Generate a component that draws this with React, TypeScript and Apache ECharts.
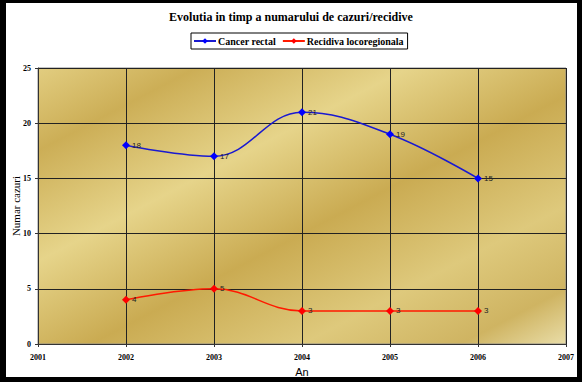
import React, { useEffect, useRef } from "react";
import * as echarts from "echarts";

const years = [2002, 2003, 2004, 2005, 2006];
const cancerRectal = [18, 17, 21, 19, 15];
const recidiva = [4, 5, 3, 3, 3];
const seriesNames = ["Cancer rectal", "Recidiva locoregionala"];
const titleText = "Evolutia in timp a numarului de cazuri/recidive";

export default function App() {
  const ref = useRef<HTMLDivElement>(null);
  useEffect(() => {
    document.body.style.margin = "0";
    const chart = echarts.init(ref.current!, null, { renderer: "svg" });
    const serif = "'Liberation Serif', 'Times New Roman', serif";
    const sans = "'Liberation Sans', Arial, sans-serif";
    const mk = (vals: number[]) => years.map((y, i) => [y, vals[i]]);
    const lbl = {
      show: true,
      position: "right",
      distance: 2,
      fontSize: 8,
      color: "#222",
      fontFamily: sans,
    };
    chart.setOption({
      animation: false,
      backgroundColor: "#000",
      graphic: [
        {
          type: "rect",
          z: -100,
          silent: true,
          shape: { x: 6, y: 3, width: 571, height: 374 },
          style: { fill: "#fff" },
        },
      ],
      title: {
        text: titleText,
        left: "center",
        top: 6,
        textStyle: { fontFamily: serif, fontSize: 12, fontWeight: "bold", color: "#000" },
      },
      legend: {
        top: 33,
        left: 191,
        data: seriesNames,
        borderColor: "#000",
        borderWidth: 1,
        padding: [3, 4, 3, 2],
        itemGap: 6,
        itemWidth: 22,
        itemHeight: 7,
        textStyle: { fontFamily: serif, fontSize: 10, fontWeight: "bold", color: "#000", padding: [0, 0, 0, -3] },
      },
      grid: {
        left: 38,
        right: 16,
        top: 68,
        bottom: 38,
        outerBoundsMode: "none",
        containLabel: false,
        show: true,
        borderColor: "#8a8a8a",
        borderWidth: 1,
        backgroundColor: new echarts.graphic.LinearGradient(0, 0, 1, 1, [
          { offset: 0, color: "#e2cd80" },
          { offset: 0.15, color: "#ccae56" },
          { offset: 0.35, color: "#e6d48a" },
          { offset: 0.55, color: "#caab52" },
          { offset: 0.75, color: "#dec97c" },
          { offset: 0.9, color: "#cfb462" },
          { offset: 1, color: "#e9dda8" },
        ]),
      },
      xAxis: {
        type: "value",
        min: 2001,
        max: 2007,
        interval: 1,
        name: "An",
        nameLocation: "middle",
        nameGap: 22,
        nameMoveOverlap: false,
        nameTextStyle: { fontFamily: sans, fontSize: 11, color: "#000", verticalAlign: "top" },
        axisLine: { show: true, lineStyle: { color: "#333" } },
        axisTick: { show: true, length: 3, lineStyle: { color: "#333" } },
        axisLabel: {
          fontFamily: serif,
          fontSize: 8,
          fontWeight: "bold",
          color: "#000",
          margin: 9,
          formatter: (v: number) => String(v),
        },
        splitLine: { show: true, lineStyle: { color: "#222", width: 1 } },
      },
      yAxis: {
        type: "value",
        min: 0,
        max: 25,
        interval: 5,
        name: "Numar cazuri",
        nameLocation: "middle",
        nameGap: 17,
        nameMoveOverlap: false,
        nameTextStyle: { fontFamily: serif, fontSize: 11, color: "#000" },
        axisLine: { show: true, lineStyle: { color: "#333" } },
        axisTick: { show: true, length: 3, lineStyle: { color: "#333" } },
        axisLabel: { fontFamily: serif, fontSize: 8, fontWeight: "bold", color: "#000", margin: 7 },
        splitLine: { show: true, lineStyle: { color: "#222", width: 1 } },
      },
      series: [
        {
          name: seriesNames[0],
          type: "line",
          smooth: 0.4,
          data: mk(cancerRectal),
          symbol: "diamond",
          symbolSize: 8,
          itemStyle: { color: "#0000ff" },
          lineStyle: { color: "#1a1ad0", width: 1.5 },
          label: lbl,
        },
        {
          name: seriesNames[1],
          type: "line",
          smooth: 0.4,
          data: mk(recidiva),
          symbol: "diamond",
          symbolSize: 8,
          itemStyle: { color: "#ff0000" },
          lineStyle: { color: "#ff1a00", width: 1.5 },
          label: lbl,
        },
      ],
    });
    return () => chart.dispose();
  }, []);
  return <div ref={ref} style={{ width: 582, height: 382 }} />;
}
